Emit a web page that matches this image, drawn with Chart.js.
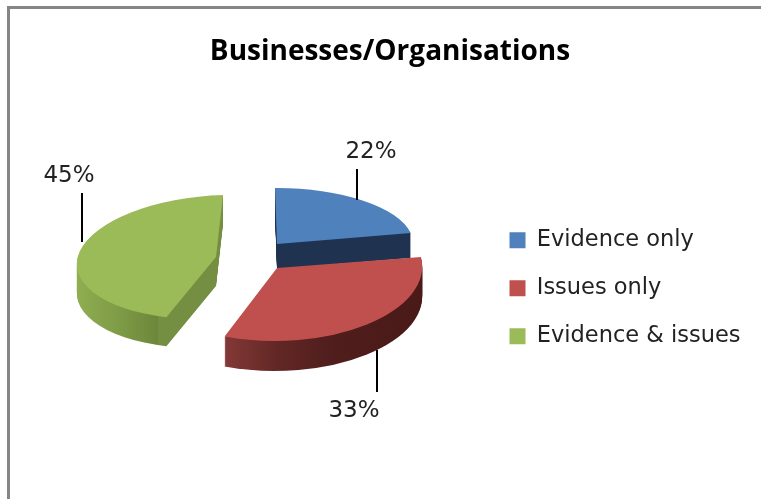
<!DOCTYPE html>
<html><head><meta charset="utf-8">
<style>html,body{margin:0;padding:0;background:#fff}canvas{display:block}</style>
<script src="https://cdn.jsdelivr.net/npm/chart.js@4/dist/chart.umd.min.js"></script>
</head><body><canvas id="c" width="761" height="499"></canvas>
<script>
const titleText = 'Businesses/Organisations';
const categories = ['Evidence only', 'Issues only', 'Evidence & issues'];
const shares = [22, 33, 45];
const colours = ['#4f81bd', '#c0504d', '#9bbb59'];

// 3D look: how each slice's circle is projected on the page
const slicePose = [
  {p:[277,244], u:[136.5,-0.5], v:[2,56],   depth:25},
  {p:[277,268], u:[145,2.7],    v:[-8,73],  depth:30},
  {p:[216,257], u:[139,-4],     v:[-7,62],  depth:29}
];
const sideStops = [
  [[0,'#1f3350'],[1,'#1f3350']],
  [[0,'#863b39'],[0.3,'#622725'],[0.6,'#4e1d1c'],[1,'#4a1a19']],
  [[0,'#8fae50'],[0.5,'#7f9c47'],[0.97,'#6c873a'],[0.971,'#748f42'],[1,'#748f42']]
];
const sideRange = [[270,415],[226,424],[78,167]];
const leaders = [
  {x:357, y0:169, y1:200, tx:371, ty:152},
  {x:377, y0:350, y1:392, tx:354, ty:411},
  {x:82,  y0:193, y1:242, tx:69,  ty:176}
];
const drawOrder = [2,0,1];
const labelFont = '23px "DejaVu Sans"';

const pie3d = {
  id:'pie3d',
  afterLayout(chart){
    const l = chart.legend;
    const w = l.width, h = l.height;
    l.left = 484; l.right = l.left + w;
    l.top = 203.5; l.bottom = l.top + h;
  },
  beforeDraw(chart){
    const c = chart.ctx;
    c.save();
    c.fillStyle = '#fff'; c.fillRect(0,0,761,499);
    c.fillStyle = '#868686';
    c.fillRect(7,6,754,3);
    c.fillRect(7,6,3,493);
    c.restore();
  },
  beforeDatasetDraw(chart){
    const c = chart.ctx;
    const arcs = chart.getDatasetMeta(0).data;
    drawOrder.forEach(i => {
      const a = arcs[i], pose = slicePose[i], R = a.outerRadius, base = a.options;
      const apply = dy => c.setTransform(pose.u[0]/R, pose.u[1]/R, pose.v[0]/R, pose.v[1]/R,
        pose.p[0] - (pose.u[0]*a.x + pose.v[0]*a.y)/R,
        pose.p[1] + dy - (pose.u[1]*a.x + pose.v[1]*a.y)/R);
      const toLocal = sx => a.x + R*(sx - pose.p[0])/pose.u[0];
      const g = c.createLinearGradient(toLocal(sideRange[i][0]),0,toLocal(sideRange[i][1]),0);
      sideStops[i].forEach(s => g.addColorStop(s[0], s[1]));
      const side = Object.create(base);
      side.backgroundColor = g; side.borderWidth = 0;
      c.save();
      a.options = side;
      for (let d = pose.depth; d >= 1; d--) { apply(d); a.draw(c); }
      const top = Object.create(base);
      top.backgroundColor = colours[i]; top.borderWidth = 0;
      a.options = top;
      apply(0); a.draw(c);
      a.options = base;
      c.restore();
    });
    return false;
  },
  afterDatasetsDraw(chart){
    const c = chart.ctx;
    c.save();
    c.setTransform(1,0,0,1,0,0);
    c.strokeStyle = '#000'; c.lineWidth = 2;
    c.fillStyle = '#222'; c.font = labelFont; c.textAlign = 'center'; c.textBaseline = 'middle';
    leaders.forEach((l,i) => {
      c.beginPath(); c.moveTo(l.x,l.y0); c.lineTo(l.x,l.y1); c.stroke();
      c.fillText(shares[i] + '%', l.tx, l.ty);
    });
    c.restore();
  }
};

new Chart(document.getElementById('c'), {
  type:'pie',
  data:{labels:categories, datasets:[{data:shares, backgroundColor:colours, borderWidth:0}]},
  options:{
    responsive:false, animation:false,
    layout:{padding:{left:19,top:0,right:0,bottom:0}},
    plugins:{
      tooltip:{enabled:false},
      title:{display:true, text:titleText, color:'#000',
        font:{family:'"Open Sans"', size:28, weight:'bold'}, padding:{top:35,bottom:10}},
      legend:{position:'right', align:'start',
        labels:{boxWidth:16, boxHeight:16, padding:25.5, color:'#222',
          font:{family:'"DejaVu Sans"', size:22.5}}}
    }
  },
  plugins:[pie3d]
});
</script></body></html>
